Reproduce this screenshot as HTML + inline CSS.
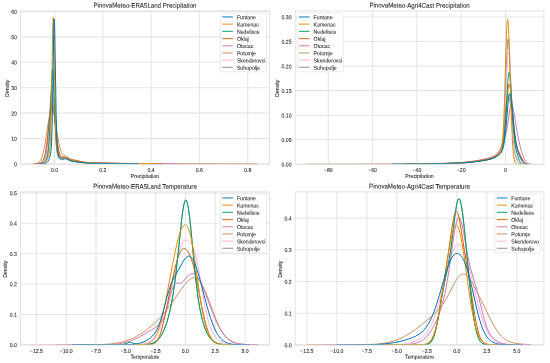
<!DOCTYPE html><html><head><meta charset="utf-8"><style>html,body{margin:0;padding:0;background:#fff;overflow:hidden}svg{display:block;will-change:transform}</style></head><body><svg width="550" height="363" viewBox="0 0 550 363" font-family='"Liberation Sans", sans-serif' fill="#222222">
<rect width="550" height="363" fill="#fff"/>
<clipPath id="c0"><rect x="20.5" y="10.9" width="249.0" height="153.29999999999998"/></clipPath>
<line x1="54.50" y1="10.9" x2="54.50" y2="164.2" stroke="#e6e6e6" stroke-width="1.1"/>
<line x1="102.80" y1="10.9" x2="102.80" y2="164.2" stroke="#e6e6e6" stroke-width="1.1"/>
<line x1="151.10" y1="10.9" x2="151.10" y2="164.2" stroke="#e6e6e6" stroke-width="1.1"/>
<line x1="199.40" y1="10.9" x2="199.40" y2="164.2" stroke="#e6e6e6" stroke-width="1.1"/>
<line x1="247.70" y1="10.9" x2="247.70" y2="164.2" stroke="#e6e6e6" stroke-width="1.1"/>
<line x1="20.5" y1="164.00" x2="269.5" y2="164.00" stroke="#e6e6e6" stroke-width="1.1"/>
<line x1="20.5" y1="138.58" x2="269.5" y2="138.58" stroke="#e6e6e6" stroke-width="1.1"/>
<line x1="20.5" y1="113.16" x2="269.5" y2="113.16" stroke="#e6e6e6" stroke-width="1.1"/>
<line x1="20.5" y1="87.74" x2="269.5" y2="87.74" stroke="#e6e6e6" stroke-width="1.1"/>
<line x1="20.5" y1="62.32" x2="269.5" y2="62.32" stroke="#e6e6e6" stroke-width="1.1"/>
<line x1="20.5" y1="36.90" x2="269.5" y2="36.90" stroke="#e6e6e6" stroke-width="1.1"/>
<line x1="20.5" y1="11.48" x2="269.5" y2="11.48" stroke="#e6e6e6" stroke-width="1.1"/>
<g clip-path="url(#c0)" fill="none" stroke-width="1.0" stroke-linejoin="round">
<path d="M38.80,163.72 40.83,163.51 42.39,163.11 43.06,162.81 43.69,162.45 44.26,162.01 44.79,161.51 45.24,160.95 45.67,160.30 46.39,158.74 47.00,156.80 47.55,154.21 48.02,151.12 48.45,147.50 49.28,137.78 50.00,126.26 51.43,100.10 52.01,91.48 52.28,88.40 52.56,86.16 52.81,84.94 52.93,84.64 53.06,84.53 53.18,84.64 53.33,85.04 53.64,86.71 53.94,89.45 54.24,93.14 54.79,101.79 56.42,130.89 56.97,138.84 57.49,144.85 58.10,149.89 58.42,151.92 58.77,153.63 59.12,154.93 59.52,156.02 59.95,156.83 60.43,157.40 60.93,157.75 61.53,157.94 62.10,157.99 63.88,157.99 65.09,158.23 66.14,158.69 69.07,160.30 70.10,160.70 71.17,160.99 72.48,161.22 81.95,162.53 86.21,162.99 90.27,163.22 95.53,163.35 139.02,163.74" stroke="#949494"/>
<path d="M37.59,163.74 40.20,163.61 41.99,163.30 42.72,163.06 43.42,162.74 44.07,162.33 44.64,161.87 45.16,161.32 45.64,160.69 46.07,159.97 46.46,159.13 47.11,157.15 47.68,154.49 48.07,151.88 48.46,148.44 49.16,139.78 49.94,125.74 51.24,96.43 51.72,86.99 52.03,82.28 52.29,79.31 52.55,77.46 52.68,76.98 52.81,76.82 52.94,76.96 53.07,77.41 53.33,79.21 53.85,86.04 54.33,95.20 55.85,128.59 56.42,138.31 56.94,145.13 57.59,150.97 57.94,153.09 58.29,154.69 58.68,155.99 59.11,156.98 59.63,157.73 60.20,158.18 60.72,158.38 61.33,158.44 63.68,158.11 64.85,158.15 66.15,158.54 69.37,160.03 70.33,160.33 71.41,160.58 75.89,161.24 81.28,162.16 83.98,162.56 87.41,162.91 91.28,163.13 98.80,163.28 139.66,163.70 211.47,163.86" stroke="#fbafe4"/>
<path d="M32.77,163.72 34.84,163.60 36.36,163.38 37.59,162.98 38.60,162.41 39.56,161.54 40.40,160.40 41.19,158.93 41.97,156.97 42.65,154.86 43.32,152.30 43.99,149.28 44.67,145.81 45.85,138.78 48.37,122.12 49.55,115.58 50.17,112.97 50.79,111.07 51.07,110.47 51.35,110.04 51.63,109.79 51.91,109.71 52.14,109.78 52.42,110.03 52.70,110.45 52.98,111.04 53.54,112.70 54.10,114.95 55.22,120.83 57.64,135.99 58.76,142.35 59.38,145.33 60.00,147.89 60.56,149.83 61.18,151.54 61.68,152.64 62.24,153.59 62.86,154.34 63.53,154.92 64.21,155.33 66.45,156.46 69.88,158.56 71.06,159.08 72.35,159.49 81.61,161.59 85.04,162.23 87.17,162.51 89.48,162.71 95.20,162.96 126.70,163.46 146.47,163.65 257.36,163.91" stroke="#ca9161"/>
<path d="M36.39,163.66 38.64,163.47 40.35,163.12 41.77,162.55 42.36,162.20 42.91,161.77 43.82,160.75 44.58,159.39 45.24,157.61 45.83,155.31 46.35,152.54 46.84,149.18 47.32,144.97 47.77,140.26 48.57,130.14 50.20,106.39 50.86,98.51 51.18,95.69 51.49,93.61 51.80,92.35 51.97,92.03 52.11,91.96 52.25,92.07 52.43,92.45 52.77,94.00 53.12,96.53 53.47,99.93 54.09,107.69 55.93,133.70 56.56,140.87 57.15,146.25 57.81,150.70 58.15,152.44 58.54,153.95 58.95,155.18 59.37,156.05 59.82,156.69 60.34,157.12 60.76,157.29 61.24,157.37 63.43,157.25 64.61,157.41 65.69,157.78 68.64,159.14 69.61,159.46 70.69,159.71 75.48,160.47 81.34,161.72 83.95,162.19 86.97,162.60 90.23,162.86 97.24,163.08 131.61,163.55 149.56,163.69 175.25,163.75" stroke="#cc78bc"/>
<path d="M35.18,163.70 37.45,163.55 39.12,163.28 40.40,162.87 41.45,162.26 42.35,161.40 43.15,160.19 43.85,158.63 44.49,156.67 45.07,154.35 45.64,151.42 46.19,148.05 46.73,144.06 47.69,135.67 49.64,116.38 50.48,109.52 50.89,106.91 51.31,104.98 51.72,103.82 51.92,103.55 52.11,103.47 52.30,103.56 52.52,103.89 52.94,105.12 53.39,107.28 53.84,110.21 54.64,116.88 56.84,137.90 57.55,143.47 58.25,147.99 58.99,151.56 59.76,154.11 60.17,155.06 60.59,155.77 61.03,156.30 61.55,156.67 62.28,156.92 64.17,157.07 65.23,157.32 66.22,157.76 69.10,159.33 70.12,159.73 71.21,160.02 76.04,160.85 83.18,162.22 85.96,162.60 88.84,162.86 91.95,163.03 95.95,163.13 124.62,163.51 142.15,163.67 163.18,163.75" stroke="#d55e00"/>
<path d="M38.80,163.74 41.01,163.57 41.84,163.41 42.57,163.18 43.25,162.87 43.87,162.48 44.47,161.99 45.02,161.40 45.55,160.69 46.03,159.89 46.82,158.06 47.46,155.75 47.99,152.79 48.37,149.79 48.70,146.30 49.34,136.75 50.02,121.96 51.19,90.20 51.63,79.73 52.11,71.88 52.36,69.87 52.47,69.43 52.58,69.29 52.69,69.45 52.80,69.91 53.02,71.73 53.48,78.99 53.92,89.22 55.26,125.04 55.75,135.20 56.21,142.63 56.74,148.62 57.03,150.95 57.36,153.01 57.71,154.64 58.08,155.90 58.53,156.93 59.01,157.70 59.38,158.10 59.80,158.41 60.24,158.59 60.71,158.67 61.54,158.59 63.68,158.00 64.30,157.95 64.92,158.01 65.53,158.18 66.19,158.47 69.30,160.19 70.21,160.54 71.15,160.81 72.47,161.05 76.29,161.57 81.88,162.43 86.07,162.92 89.84,163.16 94.58,163.30 126.95,163.64" stroke="#029e73"/>
<path d="M40.01,163.70 42.51,163.54 43.37,163.37 44.09,163.12 44.76,162.75 45.37,162.26 45.93,161.64 46.45,160.87 47.06,159.73 47.68,158.29 48.26,156.63 48.79,154.82 49.17,153.18 49.48,151.53 49.98,147.41 50.29,143.29 50.56,137.85 51.06,122.25 51.54,99.28 52.62,33.43 52.95,20.98 53.12,17.96 53.26,17.26 53.40,18.25 53.54,20.89 53.81,30.66 55.15,109.22 55.53,125.90 55.92,137.20 56.40,145.32 56.67,148.20 56.98,150.39 57.40,152.44 57.92,154.26 58.59,155.98 59.28,157.26 59.70,157.80 60.15,158.21 60.59,158.44 61.09,158.53 61.51,158.49 61.95,158.36 63.51,157.65 64.17,157.41 64.87,157.31 65.53,157.36 66.12,157.53 66.78,157.84 68.98,159.19 69.92,159.69 70.87,160.08 71.92,160.39 82.64,162.29 85.42,162.67 88.28,162.92 92.33,163.12 98.14,163.24 129.49,163.61 151.10,163.74" stroke="#de8f05"/>
<path d="M40.01,163.78 43.38,163.69 45.08,163.46 45.78,163.23 46.40,162.91 46.97,162.47 47.49,161.91 48.10,161.03 48.70,159.90 49.29,158.48 49.84,156.88 50.23,155.42 50.56,153.89 51.05,150.21 51.37,146.14 51.64,140.96 52.14,125.52 52.61,101.97 53.67,34.58 53.97,23.07 54.12,20.08 54.19,19.35 54.27,19.15 54.39,19.98 54.54,22.87 54.81,33.01 56.05,109.70 56.40,125.86 56.77,137.90 57.19,146.19 57.44,149.21 57.73,151.69 58.08,153.62 58.50,155.22 59.07,156.79 59.69,158.04 60.13,158.71 60.58,159.19 61.03,159.50 61.52,159.68 61.99,159.70 62.51,159.61 64.27,158.94 64.94,158.75 65.56,158.68 66.15,158.71 66.77,158.85 67.46,159.11 69.74,160.27 70.70,160.70 71.62,161.02 72.64,161.28 74.34,161.57 81.50,162.56 86.55,163.07 90.53,163.28 95.73,163.39 139.02,163.76" stroke="#0173b2"/>
</g>
<rect x="20.5" y="10.9" width="249.0" height="153.29999999999998" fill="none" stroke="#dcdcdc" stroke-width="0.8"/>
<rect x="220.50" y="13.00" width="46.0" height="58.8" rx="1.3" fill="#fff" fill-opacity="0.85" stroke="#dedede" stroke-width="0.6"/>
<line x1="222.30" y1="16.95" x2="232.90" y2="16.95" stroke="#0173b2" stroke-width="1.25" stroke-opacity="0.78"/>
<line x1="222.30" y1="24.15" x2="232.90" y2="24.15" stroke="#de8f05" stroke-width="1.25" stroke-opacity="0.78"/>
<line x1="222.30" y1="31.35" x2="232.90" y2="31.35" stroke="#029e73" stroke-width="1.25" stroke-opacity="0.78"/>
<line x1="222.30" y1="38.55" x2="232.90" y2="38.55" stroke="#d55e00" stroke-width="1.25" stroke-opacity="0.78"/>
<line x1="222.30" y1="45.75" x2="232.90" y2="45.75" stroke="#cc78bc" stroke-width="1.25" stroke-opacity="0.78"/>
<line x1="222.30" y1="52.95" x2="232.90" y2="52.95" stroke="#ca9161" stroke-width="1.25" stroke-opacity="0.78"/>
<line x1="222.30" y1="60.15" x2="232.90" y2="60.15" stroke="#fbafe4" stroke-width="1.25" stroke-opacity="0.78"/>
<line x1="222.30" y1="67.35" x2="232.90" y2="67.35" stroke="#949494" stroke-width="1.25" stroke-opacity="0.78"/>
<clipPath id="c1"><rect x="295.2" y="10.9" width="248.7" height="153.29999999999998"/></clipPath>
<line x1="328.30" y1="10.9" x2="328.30" y2="164.2" stroke="#e6e6e6" stroke-width="1.1"/>
<line x1="372.60" y1="10.9" x2="372.60" y2="164.2" stroke="#e6e6e6" stroke-width="1.1"/>
<line x1="416.90" y1="10.9" x2="416.90" y2="164.2" stroke="#e6e6e6" stroke-width="1.1"/>
<line x1="461.20" y1="10.9" x2="461.20" y2="164.2" stroke="#e6e6e6" stroke-width="1.1"/>
<line x1="505.50" y1="10.9" x2="505.50" y2="164.2" stroke="#e6e6e6" stroke-width="1.1"/>
<line x1="295.2" y1="164.30" x2="543.9" y2="164.30" stroke="#e6e6e6" stroke-width="1.1"/>
<line x1="295.2" y1="139.75" x2="543.9" y2="139.75" stroke="#e6e6e6" stroke-width="1.1"/>
<line x1="295.2" y1="115.20" x2="543.9" y2="115.20" stroke="#e6e6e6" stroke-width="1.1"/>
<line x1="295.2" y1="90.65" x2="543.9" y2="90.65" stroke="#e6e6e6" stroke-width="1.1"/>
<line x1="295.2" y1="66.10" x2="543.9" y2="66.10" stroke="#e6e6e6" stroke-width="1.1"/>
<line x1="295.2" y1="41.55" x2="543.9" y2="41.55" stroke="#e6e6e6" stroke-width="1.1"/>
<line x1="295.2" y1="17.00" x2="543.9" y2="17.00" stroke="#e6e6e6" stroke-width="1.1"/>
<g clip-path="url(#c1)" fill="none" stroke-width="1.0" stroke-linejoin="round">
<path d="M419.12,163.82 441.81,163.59 449.18,163.43 455.42,163.21 461.38,162.89 466.98,162.46 472.42,161.92 477.73,161.25 482.88,160.46 487.41,159.63 490.40,158.94 492.72,158.20 494.83,157.23 496.86,155.94 498.05,155.02 499.25,153.98 500.06,153.19 500.66,152.46 501.25,151.45 501.72,150.28 502.14,148.80 502.53,146.83 502.87,144.52 503.21,141.49 503.80,133.96 504.35,124.22 504.90,111.59 506.51,64.72 507.03,51.51 507.58,42.05 507.84,39.66 507.97,39.05 508.10,38.83 508.25,39.06 508.41,39.64 508.75,42.02 509.09,45.90 509.43,51.13 510.13,65.47 511.77,106.03 512.58,123.57 513.04,131.98 513.49,138.64 513.95,144.36 514.45,149.09 515.02,153.15 515.67,156.38 516.43,158.88 516.87,159.94 517.34,160.84 517.88,161.69 518.48,162.42 519.11,163.00 519.78,163.47 520.49,163.81 521.24,164.04 522.13,164.19 523.22,164.27" stroke="#949494"/>
<path d="M412.47,163.86 438.14,163.65 452.37,163.33 458.46,163.06 464.05,162.70 469.40,162.24 474.63,161.65 480.17,160.89 485.48,160.01 489.25,159.23 491.96,158.47 494.15,157.58 496.17,156.42 497.28,155.63 498.41,154.72 499.44,153.80 500.18,153.01 500.90,152.03 501.46,150.95 501.93,149.63 502.34,147.98 502.73,145.89 503.09,143.32 503.76,136.55 504.34,128.05 504.95,116.42 506.66,74.93 507.22,63.22 507.52,58.25 507.80,54.92 508.07,52.90 508.21,52.42 508.32,52.29 508.49,52.50 508.66,53.03 508.99,55.01 509.35,58.48 509.71,63.22 510.43,75.72 512.09,110.64 512.92,126.09 513.83,139.19 514.30,144.26 514.80,148.52 515.38,152.29 516.05,155.37 516.80,157.78 517.71,159.83 518.29,160.81 518.90,161.66 519.54,162.39 520.20,162.98 520.87,163.44 521.56,163.77 522.33,164.01 523.22,164.17" stroke="#fbafe4"/>
<path d="M306.15,164.23 357.49,164.08 404.64,163.81 434.28,163.53 442.67,163.39 449.44,163.19 455.65,162.91 461.30,162.52 466.61,162.02 471.76,161.38 477.12,160.55 482.44,159.54 487.19,158.46 490.49,157.50 492.56,156.67 494.35,155.68 496.03,154.46 497.59,152.99 498.88,151.47 499.83,149.97 500.61,148.24 501.29,146.16 501.79,144.07 502.29,141.39 502.80,138.03 503.24,134.42 504.03,126.77 505.70,108.08 506.54,100.44 506.93,97.77 507.27,96.07 507.61,95.01 507.77,94.74 507.94,94.67 508.11,94.79 508.39,95.30 508.95,96.82 509.45,98.79 510.01,101.65 511.02,108.32 513.48,127.94 514.71,136.57 515.44,140.83 516.16,144.43 516.95,147.69 517.78,150.59 519.01,154.10 520.47,157.48 521.81,159.98 522.48,161.00 523.15,161.84 523.77,162.48 524.44,163.03 525.11,163.44 525.84,163.76 526.62,163.98 527.46,164.13 529.87,164.28" stroke="#ca9161"/>
<path d="M408.04,163.82 431.61,163.62 444.82,163.40 454.96,163.03 463.52,162.46 468.57,161.96 473.47,161.35 478.31,160.60 483.05,159.74 487.02,158.89 489.94,158.13 492.17,157.34 494.06,156.42 495.52,155.48 496.91,154.35 498.22,153.06 499.40,151.63 500.39,150.16 501.26,148.58 502.03,146.84 502.81,144.74 503.71,141.85 505.29,136.22 506.43,131.72 506.93,129.21 507.43,126.20 509.13,113.85 509.88,109.25 510.28,107.35 510.68,105.96 511.09,105.15 511.27,104.97 511.49,104.91 511.71,104.98 511.92,105.18 512.36,105.96 512.82,107.33 513.29,109.18 514.37,114.90 517.04,131.39 518.37,138.46 519.37,142.97 520.42,147.20 521.57,151.29 522.71,154.87 523.71,157.51 524.67,159.61 525.63,161.23 526.62,162.44 527.65,163.26 528.82,163.81 530.19,164.12 532.08,164.26" stroke="#cc78bc"/>
<path d="M405.82,163.88 432.32,163.67 446.48,163.44 457.39,163.03 462.17,162.73 466.74,162.35 472.40,161.74 477.95,160.99 483.55,160.06 488.21,159.11 490.89,158.40 493.02,157.62 494.91,156.66 496.74,155.41 498.14,154.23 499.36,153.02 500.27,151.89 501.00,150.69 501.61,149.35 502.16,147.71 502.68,145.64 503.13,143.29 503.59,140.36 504.02,137.04 504.90,128.40 505.75,118.14 507.31,97.43 507.91,90.50 508.25,87.56 508.55,85.61 508.86,84.43 509.01,84.16 509.13,84.10 509.32,84.22 509.50,84.53 509.89,85.82 510.29,87.93 510.72,91.06 511.54,99.05 513.43,121.20 514.34,130.68 514.86,135.18 515.38,138.99 515.92,142.31 516.47,144.97 517.29,148.00 518.30,150.73 521.10,156.84 522.72,159.95 523.87,161.67 524.42,162.30 525.00,162.84 525.58,163.26 526.22,163.61 526.89,163.87 527.65,164.05" stroke="#d55e00"/>
<path d="M421.33,163.81 442.31,163.58 449.33,163.42 455.35,163.21 461.07,162.91 466.43,162.51 471.64,162.00 476.71,161.39 481.82,160.63 486.53,159.81 489.73,159.12 492.15,158.41 494.20,157.55 496.08,156.48 498.11,154.97 499.98,153.26 500.79,152.31 501.44,151.31 501.99,150.14 502.45,148.76 502.90,147.02 503.31,144.86 504.07,139.32 504.74,132.24 505.45,122.65 507.37,89.15 507.92,80.79 508.23,77.06 508.52,74.52 508.80,72.94 508.96,72.51 509.09,72.39 509.22,72.47 509.38,72.80 509.69,74.17 510.00,76.47 510.34,79.91 511.02,89.16 512.66,116.60 513.49,128.74 513.96,134.33 514.45,139.23 514.97,143.39 515.55,147.01 516.43,151.26 517.55,155.37 518.80,159.03 519.37,160.38 519.94,161.50 520.44,162.27 520.93,162.88 521.48,163.38 522.05,163.74 522.68,163.99 523.38,164.15 525.43,164.29" stroke="#029e73"/>
<path d="M416.90,163.84 440.51,163.61 448.00,163.46 454.30,163.25 460.29,162.95 465.88,162.56 471.27,162.04 476.55,161.41 481.89,160.62 486.78,159.76 490.03,159.04 492.45,158.30 493.60,157.83 494.69,157.30 495.73,156.70 496.77,156.00 497.92,155.12 498.93,154.22 499.64,153.48 500.18,152.73 500.76,151.62 501.23,150.24 501.64,148.45 502.01,146.25 502.34,143.50 502.68,139.89 503.28,130.88 503.80,119.83 504.35,104.84 505.91,51.02 506.46,34.56 506.74,27.88 507.03,22.97 507.29,20.24 507.42,19.55 507.55,19.32 507.68,19.55 507.84,20.30 508.12,22.97 508.43,27.69 508.75,34.15 509.37,51.21 510.85,100.42 511.58,121.65 512.39,139.51 512.81,146.28 513.25,151.84 513.72,156.13 514.21,159.26 514.76,161.47 515.07,162.31 515.41,162.96 515.72,163.39 516.09,163.73 516.50,163.97 517.00,164.14 518.22,164.27 521.00,164.30" stroke="#de8f05"/>
<path d="M392.54,163.99 425.30,163.80 441.95,163.63 453.57,163.34 463.07,162.85 469.01,162.38 474.79,161.78 480.49,161.02 485.90,160.16 489.31,159.49 491.81,158.83 493.91,158.04 495.83,157.04 497.42,155.98 499.01,154.71 500.26,153.53 501.17,152.42 501.88,151.25 502.48,149.86 503.03,148.20 503.53,146.16 504.04,143.56 504.55,140.34 505.56,131.96 506.40,123.03 507.92,104.67 508.50,98.90 508.80,96.57 509.11,94.88 509.38,93.96 509.51,93.72 509.68,93.63 509.85,93.70 510.02,93.93 510.39,94.97 510.76,96.73 511.17,99.37 511.94,106.09 513.83,125.80 514.81,134.71 515.39,139.03 515.96,142.68 516.57,145.90 517.25,148.83 518.26,152.35 519.48,155.74 520.79,158.74 521.43,159.96 522.08,161.00 522.65,161.78 523.22,162.43 523.83,162.97 524.44,163.38 525.12,163.71 525.83,163.94 526.67,164.11 527.65,164.22" stroke="#0173b2"/>
</g>
<rect x="295.2" y="10.9" width="248.7" height="153.29999999999998" fill="none" stroke="#dcdcdc" stroke-width="0.8"/>
<rect x="297.20" y="13.00" width="46.0" height="58.8" rx="1.3" fill="#fff" fill-opacity="0.85" stroke="#dedede" stroke-width="0.6"/>
<line x1="299.00" y1="16.95" x2="309.60" y2="16.95" stroke="#0173b2" stroke-width="1.25" stroke-opacity="0.78"/>
<line x1="299.00" y1="24.15" x2="309.60" y2="24.15" stroke="#de8f05" stroke-width="1.25" stroke-opacity="0.78"/>
<line x1="299.00" y1="31.35" x2="309.60" y2="31.35" stroke="#029e73" stroke-width="1.25" stroke-opacity="0.78"/>
<line x1="299.00" y1="38.55" x2="309.60" y2="38.55" stroke="#d55e00" stroke-width="1.25" stroke-opacity="0.78"/>
<line x1="299.00" y1="45.75" x2="309.60" y2="45.75" stroke="#cc78bc" stroke-width="1.25" stroke-opacity="0.78"/>
<line x1="299.00" y1="52.95" x2="309.60" y2="52.95" stroke="#ca9161" stroke-width="1.25" stroke-opacity="0.78"/>
<line x1="299.00" y1="60.15" x2="309.60" y2="60.15" stroke="#fbafe4" stroke-width="1.25" stroke-opacity="0.78"/>
<line x1="299.00" y1="67.35" x2="309.60" y2="67.35" stroke="#949494" stroke-width="1.25" stroke-opacity="0.78"/>
<clipPath id="c2"><rect x="20.5" y="191.9" width="249.0" height="153.1"/></clipPath>
<line x1="36.40" y1="191.9" x2="36.40" y2="345.0" stroke="#e6e6e6" stroke-width="1.1"/>
<line x1="66.20" y1="191.9" x2="66.20" y2="345.0" stroke="#e6e6e6" stroke-width="1.1"/>
<line x1="96.00" y1="191.9" x2="96.00" y2="345.0" stroke="#e6e6e6" stroke-width="1.1"/>
<line x1="125.80" y1="191.9" x2="125.80" y2="345.0" stroke="#e6e6e6" stroke-width="1.1"/>
<line x1="155.60" y1="191.9" x2="155.60" y2="345.0" stroke="#e6e6e6" stroke-width="1.1"/>
<line x1="185.40" y1="191.9" x2="185.40" y2="345.0" stroke="#e6e6e6" stroke-width="1.1"/>
<line x1="215.20" y1="191.9" x2="215.20" y2="345.0" stroke="#e6e6e6" stroke-width="1.1"/>
<line x1="245.00" y1="191.9" x2="245.00" y2="345.0" stroke="#e6e6e6" stroke-width="1.1"/>
<line x1="20.5" y1="344.80" x2="269.5" y2="344.80" stroke="#e6e6e6" stroke-width="1.1"/>
<line x1="20.5" y1="314.43" x2="269.5" y2="314.43" stroke="#e6e6e6" stroke-width="1.1"/>
<line x1="20.5" y1="284.06" x2="269.5" y2="284.06" stroke="#e6e6e6" stroke-width="1.1"/>
<line x1="20.5" y1="253.69" x2="269.5" y2="253.69" stroke="#e6e6e6" stroke-width="1.1"/>
<line x1="20.5" y1="223.32" x2="269.5" y2="223.32" stroke="#e6e6e6" stroke-width="1.1"/>
<line x1="20.5" y1="192.95" x2="269.5" y2="192.95" stroke="#e6e6e6" stroke-width="1.1"/>
<g clip-path="url(#c2)" fill="none" stroke-width="1.0" stroke-linejoin="round">
<path d="M87.66,344.80 137.62,344.78 143.42,344.67 147.31,344.39 149.56,344.06 151.55,343.57 153.30,342.93 154.90,342.11 156.43,341.07 157.84,339.82 159.18,338.34 160.47,336.59 162.11,333.88 163.68,330.70 165.20,326.99 166.65,322.84 168.03,318.28 169.36,313.17 170.62,307.62 171.80,301.65 172.83,295.75 173.82,289.37 174.78,282.53 175.77,274.68 177.49,259.40 180.96,225.77 181.80,218.42 182.52,212.76 183.40,207.06 184.24,203.04 184.66,201.63 185.04,200.71 185.42,200.15 185.61,200.01 185.80,199.96 185.99,200.01 186.22,200.19 186.64,200.87 187.06,201.99 187.48,203.54 187.90,205.52 188.36,208.12 189.27,214.59 190.03,221.08 190.91,229.46 194.04,262.30 195.41,275.84 196.90,288.79 198.35,299.46 199.84,308.47 200.60,312.41 201.40,316.11 202.24,319.55 203.08,322.61 204.00,325.56 204.95,328.27 206.09,331.08 207.28,333.56 208.53,335.78 209.83,337.69 211.20,339.34 212.65,340.72 214.18,341.85 215.82,342.76 217.38,343.39 219.14,343.89 221.08,344.25 223.37,344.51 225.85,344.66 228.94,344.75 240.23,344.80" stroke="#949494"/>
<path d="M31.04,344.80 121.97,344.80 129.51,344.76 134.27,344.67 137.22,344.53 139.73,344.32 141.92,344.03 143.85,343.65 145.67,343.14 147.33,342.52 148.88,341.76 150.32,340.88 152.14,339.48 153.85,337.81 155.51,335.81 157.11,333.47 158.67,330.78 160.16,327.75 161.61,324.38 163.00,320.69 164.39,316.53 165.78,311.87 167.17,306.70 168.56,301.02 171.13,289.30 176.53,262.58 177.98,256.21 179.31,251.09 180.12,248.46 180.92,246.19 181.72,244.30 182.52,242.79 183.32,241.64 184.18,240.80 184.61,240.52 185.09,240.30 186.00,240.14 186.59,240.20 187.23,240.38 187.87,240.68 188.57,241.11 189.26,241.67 189.90,242.28 191.19,243.83 192.26,245.55 193.27,247.65 194.24,250.14 195.15,253.02 195.90,255.79 196.64,258.94 198.20,266.58 199.69,275.12 203.81,300.15 205.15,307.42 206.43,313.61 207.98,319.96 208.73,322.60 209.54,325.14 210.39,327.54 211.25,329.66 212.16,331.63 213.07,333.36 214.14,335.11 215.26,336.68 216.49,338.14 217.77,339.41 219.11,340.50 220.55,341.46 222.05,342.25 223.71,342.94 225.37,343.46 227.13,343.87 229.06,344.18 231.25,344.42 236.55,344.70 245.00,344.79" stroke="#fbafe4"/>
<path d="M55.47,344.80 81.56,344.78 93.57,344.70 102.59,344.45 106.28,344.26 109.63,344.00 113.17,343.63 116.47,343.15 119.56,342.58 122.55,341.89 125.43,341.06 128.22,340.12 130.96,339.04 133.69,337.80 136.63,336.28 139.57,334.58 142.56,332.66 145.55,330.56 148.59,328.25 151.57,325.78 154.51,323.17 157.30,320.50 159.93,317.78 162.52,314.93 165.05,311.92 167.63,308.66 169.91,305.61 172.34,302.21 181.82,288.47 184.00,285.54 185.92,283.17 187.14,281.82 188.25,280.71 189.32,279.79 190.33,279.04 191.29,278.47 192.25,278.04 193.22,277.78 194.13,277.69 195.19,277.80 196.26,278.16 197.32,278.76 198.33,279.57 199.35,280.62 200.41,281.98 201.47,283.59 202.54,285.44 204.41,289.25 206.44,294.01 208.47,299.26 214.34,315.16 216.22,319.84 217.99,323.91 220.07,328.14 222.09,331.67 223.11,333.22 224.12,334.62 225.18,335.95 226.25,337.14 227.41,338.28 228.63,339.32 229.89,340.25 231.21,341.06 232.58,341.77 234.00,342.37 235.52,342.89 237.19,343.35 238.91,343.71 240.74,344.00 244.99,344.42 250.36,344.65 258.11,344.77" stroke="#ca9161"/>
<path d="M66.20,344.80 93.98,344.79 104.39,344.71 108.66,344.60 112.26,344.43 115.43,344.19 118.35,343.87 121.52,343.39 124.49,342.77 127.37,342.00 130.20,341.06 133.03,339.94 135.96,338.61 139.13,337.00 142.82,334.98 151.74,329.77 154.43,328.08 156.49,326.65 158.27,325.24 159.76,323.82 161.00,322.38 162.16,320.73 163.02,319.24 163.88,317.47 164.70,315.52 165.51,313.28 166.38,310.58 167.24,307.57 170.36,295.50 171.66,290.94 172.38,288.79 173.09,286.99 173.77,285.64 174.49,284.56 174.92,284.08 175.35,283.72 175.78,283.46 176.26,283.29 177.17,283.17 179.00,283.29 179.86,283.26 180.77,283.04 181.68,282.60 182.55,281.97 183.51,281.07 187.15,276.88 188.02,275.98 188.83,275.24 189.74,274.57 190.61,274.10 191.47,273.81 192.33,273.71 193.29,273.83 194.25,274.18 195.21,274.78 196.17,275.62 197.13,276.70 198.14,278.06 199.15,279.66 200.15,281.47 202.03,285.33 204.04,290.09 206.15,295.53 212.44,312.36 214.55,317.60 216.47,321.98 218.72,326.59 220.93,330.49 222.03,332.20 223.18,333.83 224.34,335.30 225.49,336.62 226.73,337.89 228.03,339.03 229.33,340.02 230.72,340.92 232.11,341.68 233.60,342.35 235.18,342.92 236.86,343.40 238.54,343.77 240.36,344.07 242.38,344.31 244.63,344.49 249.96,344.70 258.11,344.79" stroke="#cc78bc"/>
<path d="M84.08,344.80 142.23,344.80 148.04,344.74 150.71,344.54 151.76,344.35 152.69,344.11 153.54,343.78 154.35,343.36 155.09,342.86 155.79,342.25 156.72,341.22 157.57,340.00 158.38,338.57 159.20,336.84 160.01,334.80 160.79,332.55 161.56,330.01 162.37,327.04 163.57,322.13 164.93,315.99 170.12,290.44 172.79,277.93 175.27,267.34 176.32,263.30 177.33,259.75 178.22,256.95 179.07,254.61 179.88,252.71 180.70,251.16 181.51,249.97 182.32,249.13 183.14,248.63 183.56,248.50 183.99,248.46 184.49,248.51 185.04,248.69 185.54,248.97 186.08,249.37 187.17,250.53 188.25,252.11 189.34,254.12 190.38,256.48 191.43,259.28 192.44,262.41 193.29,265.40 194.14,268.69 195.92,276.48 197.63,284.86 202.08,307.91 203.44,314.35 204.72,319.88 206.23,325.61 207.70,330.31 208.44,332.33 209.21,334.22 209.99,335.89 210.76,337.35 211.57,338.68 212.43,339.86 213.32,340.88 214.25,341.76 215.25,342.51 216.30,343.12 217.42,343.61 218.66,344.00 219.82,344.26 221.14,344.46 224.40,344.70 228.85,344.79 239.04,344.80" stroke="#d55e00"/>
<path d="M78.12,344.80 116.12,344.80 120.27,344.74 122.05,344.59 123.56,344.31 125.00,343.88 128.13,342.68 129.06,342.45 129.95,342.38 130.77,342.43 131.62,342.62 135.49,344.06 136.62,344.36 137.78,344.56 139.37,344.69 141.34,344.72 144.02,344.64 146.42,344.48 148.74,344.20 150.76,343.79 152.58,343.22 154.21,342.50 155.72,341.59 157.15,340.47 158.51,339.12 159.82,337.51 160.67,336.29 161.53,334.92 163.15,331.83 164.74,328.18 166.25,324.05 167.73,319.33 169.12,314.14 170.40,308.65 171.64,302.52 172.68,296.63 173.73,290.00 174.74,282.83 175.71,275.20 177.45,259.74 180.97,225.60 181.79,218.48 182.52,212.73 183.42,206.96 184.23,203.07 184.66,201.63 185.04,200.70 185.43,200.14 185.62,200.00 185.82,199.96 186.01,200.02 186.24,200.21 186.67,200.93 187.10,202.11 187.52,203.73 188.37,208.23 189.30,214.85 190.08,221.48 190.93,229.65 193.99,261.80 195.31,274.86 196.70,287.19 198.10,297.75 199.41,306.10 200.81,313.42 202.28,319.71 203.10,322.66 203.91,325.30 204.95,328.28 206.08,331.05 207.24,333.49 208.48,335.70 209.76,337.59 211.08,339.20 212.47,340.57 213.98,341.72 215.45,342.58 217.04,343.27 218.78,343.80 220.72,344.19 222.89,344.47 225.45,344.64 233.08,344.79" stroke="#029e73"/>
<path d="M90.04,344.80 133.59,344.78 138.95,344.70 142.53,344.51 144.54,344.28 146.25,343.96 147.78,343.53 149.12,343.00 150.38,342.31 151.54,341.48 152.62,340.49 153.63,339.34 154.74,337.77 155.82,335.91 156.87,333.75 157.91,331.20 158.92,328.37 159.92,325.16 160.96,321.44 162.01,317.34 163.83,309.37 165.88,299.49 172.62,264.27 174.75,253.58 176.68,244.68 178.43,237.70 179.33,234.63 180.19,232.05 181.04,229.83 181.86,228.07 182.68,226.68 183.50,225.68 183.91,225.32 184.32,225.07 184.73,224.92 185.10,224.87 185.51,224.93 185.92,225.09 186.33,225.37 186.70,225.73 187.49,226.81 188.23,228.26 188.98,230.16 189.72,232.50 190.47,235.30 191.21,238.56 192.51,245.32 193.93,254.00 195.35,263.76 199.44,293.49 200.78,302.30 202.05,309.77 203.58,317.53 205.11,323.92 205.89,326.69 206.71,329.26 207.53,331.52 208.38,333.57 209.31,335.48 210.28,337.16 211.33,338.67 212.41,339.95 213.56,341.05 214.79,341.98 216.09,342.73 217.55,343.36 218.96,343.80 220.53,344.14 222.28,344.40 224.29,344.58 229.32,344.76 239.04,344.80" stroke="#de8f05"/>
<path d="M72.16,344.80 118.87,344.77 126.37,344.63 131.75,344.35 134.68,344.05 137.30,343.65 139.70,343.13 141.92,342.50 144.00,341.73 146.00,340.81 147.87,339.74 149.60,338.54 151.06,337.32 152.39,336.02 153.64,334.60 154.79,333.06 155.90,331.32 156.92,329.48 157.94,327.35 158.92,325.04 160.52,320.60 162.16,315.24 163.63,309.89 167.05,296.75 168.82,290.53 169.76,287.62 170.69,285.01 171.62,282.67 172.60,280.49 174.46,276.90 178.24,270.34 182.37,262.78 184.01,260.07 185.30,258.32 186.50,257.11 187.07,256.68 187.65,256.38 188.23,256.20 188.76,256.14 189.65,256.30 190.49,256.75 191.33,257.49 192.18,258.52 193.02,259.84 193.91,261.52 194.80,263.49 195.73,265.85 197.37,270.65 199.19,276.75 201.06,283.60 206.70,305.12 208.56,311.69 210.29,317.28 212.29,323.02 214.29,327.94 215.27,330.04 216.29,332.03 217.31,333.81 218.38,335.46 219.49,336.98 220.64,338.34 221.79,339.50 223.04,340.55 224.33,341.45 225.70,342.23 227.12,342.87 228.68,343.40 230.19,343.79 231.87,344.11 233.74,344.36 235.87,344.54 241.02,344.73 249.77,344.80" stroke="#0173b2"/>
</g>
<rect x="20.5" y="191.9" width="249.0" height="153.1" fill="none" stroke="#dcdcdc" stroke-width="0.8"/>
<rect x="220.50" y="194.00" width="46.0" height="58.8" rx="1.3" fill="#fff" fill-opacity="0.85" stroke="#dedede" stroke-width="0.6"/>
<line x1="222.30" y1="197.95" x2="232.90" y2="197.95" stroke="#0173b2" stroke-width="1.25" stroke-opacity="0.78"/>
<line x1="222.30" y1="205.15" x2="232.90" y2="205.15" stroke="#de8f05" stroke-width="1.25" stroke-opacity="0.78"/>
<line x1="222.30" y1="212.35" x2="232.90" y2="212.35" stroke="#029e73" stroke-width="1.25" stroke-opacity="0.78"/>
<line x1="222.30" y1="219.55" x2="232.90" y2="219.55" stroke="#d55e00" stroke-width="1.25" stroke-opacity="0.78"/>
<line x1="222.30" y1="226.75" x2="232.90" y2="226.75" stroke="#cc78bc" stroke-width="1.25" stroke-opacity="0.78"/>
<line x1="222.30" y1="233.95" x2="232.90" y2="233.95" stroke="#ca9161" stroke-width="1.25" stroke-opacity="0.78"/>
<line x1="222.30" y1="241.15" x2="232.90" y2="241.15" stroke="#fbafe4" stroke-width="1.25" stroke-opacity="0.78"/>
<line x1="222.30" y1="248.35" x2="232.90" y2="248.35" stroke="#949494" stroke-width="1.25" stroke-opacity="0.78"/>
<clipPath id="c3"><rect x="295.2" y="191.9" width="248.7" height="153.1"/></clipPath>
<line x1="306.80" y1="191.9" x2="306.80" y2="345.0" stroke="#e6e6e6" stroke-width="1.1"/>
<line x1="336.80" y1="191.9" x2="336.80" y2="345.0" stroke="#e6e6e6" stroke-width="1.1"/>
<line x1="366.80" y1="191.9" x2="366.80" y2="345.0" stroke="#e6e6e6" stroke-width="1.1"/>
<line x1="396.80" y1="191.9" x2="396.80" y2="345.0" stroke="#e6e6e6" stroke-width="1.1"/>
<line x1="426.80" y1="191.9" x2="426.80" y2="345.0" stroke="#e6e6e6" stroke-width="1.1"/>
<line x1="456.80" y1="191.9" x2="456.80" y2="345.0" stroke="#e6e6e6" stroke-width="1.1"/>
<line x1="486.80" y1="191.9" x2="486.80" y2="345.0" stroke="#e6e6e6" stroke-width="1.1"/>
<line x1="516.80" y1="191.9" x2="516.80" y2="345.0" stroke="#e6e6e6" stroke-width="1.1"/>
<line x1="295.2" y1="344.90" x2="543.9" y2="344.90" stroke="#e6e6e6" stroke-width="1.1"/>
<line x1="295.2" y1="313.20" x2="543.9" y2="313.20" stroke="#e6e6e6" stroke-width="1.1"/>
<line x1="295.2" y1="281.50" x2="543.9" y2="281.50" stroke="#e6e6e6" stroke-width="1.1"/>
<line x1="295.2" y1="249.80" x2="543.9" y2="249.80" stroke="#e6e6e6" stroke-width="1.1"/>
<line x1="295.2" y1="218.10" x2="543.9" y2="218.10" stroke="#e6e6e6" stroke-width="1.1"/>
<g clip-path="url(#c3)" fill="none" stroke-width="1.0" stroke-linejoin="round">
<path d="M358.40,344.90 417.99,344.90 423.76,344.81 425.23,344.70 426.43,344.52 427.48,344.25 428.41,343.88 429.28,343.38 430.06,342.77 430.81,342.00 431.49,341.11 432.31,339.76 433.10,338.12 433.85,336.23 434.60,333.98 435.35,331.34 436.10,328.33 437.64,321.02 438.88,314.24 441.73,297.48 443.11,289.75 444.61,282.15 447.76,267.35 448.62,262.83 449.45,258.04 450.28,252.70 451.14,246.51 454.74,217.29 455.56,211.27 456.28,206.78 456.95,203.33 457.62,200.78 457.96,199.87 458.30,199.22 458.64,198.84 458.94,198.73 459.12,198.76 459.35,198.92 459.76,199.51 460.18,200.50 460.62,202.01 461.08,203.96 461.53,206.32 462.46,212.44 463.40,219.91 464.45,229.51 469.55,282.13 470.86,294.61 472.10,305.24 473.49,315.58 474.88,324.09 475.55,327.56 476.26,330.76 476.98,333.51 477.73,335.95 478.40,337.78 479.08,339.30 479.79,340.61 480.58,341.75 481.40,342.66 482.26,343.37 483.24,343.92 484.33,344.33 485.26,344.55 486.31,344.70 489.12,344.86 508.40,344.90" stroke="#949494"/>
<path d="M348.80,344.90 390.42,344.85 397.58,344.64 400.47,344.45 403.07,344.19 406.31,343.72 409.29,343.10 412.15,342.32 414.79,341.38 417.22,340.30 419.47,339.05 421.52,337.65 423.39,336.09 424.93,334.56 426.37,332.86 427.74,331.02 429.06,328.96 430.34,326.69 431.61,324.13 432.85,321.35 434.09,318.27 435.32,314.87 436.60,311.03 437.88,306.86 439.24,302.08 441.80,292.35 447.97,267.46 449.76,260.90 451.34,255.75 452.32,252.93 453.26,250.54 454.15,248.57 455.04,246.93 455.94,245.64 456.79,244.76 457.26,244.41 457.69,244.19 458.11,244.06 458.54,244.01 459.35,244.16 460.20,244.65 461.05,245.50 461.90,246.67 462.75,248.17 463.65,250.08 464.54,252.31 465.44,254.83 467.10,260.20 468.93,266.97 470.81,274.52 476.60,298.75 478.52,306.17 480.31,312.53 482.39,319.16 484.44,324.75 485.46,327.20 486.48,329.44 487.55,331.54 488.61,333.41 489.76,335.21 490.96,336.82 492.15,338.22 493.43,339.49 494.75,340.58 496.11,341.51 497.56,342.31 499.14,342.98 500.71,343.50 502.42,343.92 504.29,344.24 506.38,344.49 511.40,344.78 519.20,344.89" stroke="#fbafe4"/>
<path d="M306.80,344.90 341.81,344.89 356.00,344.83 366.43,344.63 374.40,344.23 378.44,343.89 382.14,343.45 385.62,342.91 388.87,342.25 391.96,341.48 394.99,340.55 397.91,339.50 400.82,338.27 404.41,336.50 408.06,334.43 411.76,332.04 415.75,329.20 421.52,324.74 429.10,318.55 433.42,314.81 436.73,311.63 438.86,309.31 440.88,306.86 442.79,304.25 444.64,301.42 446.26,298.70 447.95,295.66 454.46,283.19 455.97,280.58 457.32,278.52 458.16,277.39 458.94,276.47 459.73,275.68 460.46,275.07 461.19,274.59 461.92,274.24 462.65,274.04 463.38,273.97 464.27,274.08 465.23,274.42 466.18,274.98 467.13,275.76 468.14,276.80 469.15,278.04 470.22,279.54 471.40,281.38 473.64,285.32 476.45,290.70 480.93,299.71 489.35,316.92 493.05,324.07 495.24,327.90 497.26,331.05 499.28,333.79 501.24,336.04 502.42,337.20 503.60,338.22 504.83,339.16 506.12,340.00 507.41,340.72 508.82,341.37 510.27,341.94 511.85,342.44 513.53,342.87 515.38,343.25 519.59,343.86 524.80,344.31 531.20,344.61" stroke="#ca9161"/>
<path d="M324.80,344.90 394.11,344.88 402.06,344.79 407.42,344.55 410.48,344.25 413.18,343.83 415.63,343.26 417.82,342.55 419.92,341.63 421.85,340.53 423.69,339.22 425.47,337.67 426.70,336.44 427.87,335.10 429.04,333.62 430.17,332.06 431.34,330.28 432.46,328.41 434.70,324.22 436.90,319.49 438.94,314.43 440.77,309.18 442.46,303.58 443.78,298.47 445.01,293.09 446.18,287.23 447.35,280.64 449.44,267.16 453.52,238.03 454.44,232.17 455.26,227.56 456.23,223.04 456.69,221.32 457.15,219.90 457.60,218.79 458.06,218.01 458.52,217.55 458.93,217.43 459.29,217.54 459.70,217.91 460.05,218.43 460.46,219.27 461.28,221.62 462.14,225.00 462.86,228.34 463.67,232.63 466.53,249.12 467.80,256.05 469.18,262.68 470.56,268.36 472.04,273.61 475.35,284.36 476.83,289.62 478.56,296.45 482.44,312.68 484.43,320.14 485.65,324.10 486.83,327.39 488.05,330.32 489.28,332.77 490.45,334.72 491.67,336.42 493.00,337.94 494.48,339.31 496.06,340.49 497.74,341.49 499.58,342.35 501.62,343.08 503.61,343.61 505.75,344.02 508.15,344.34 510.85,344.57 517.43,344.82 528.80,344.90" stroke="#cc78bc"/>
<path d="M354.80,344.90 417.44,344.90 423.26,344.83 424.75,344.72 425.97,344.56 427.03,344.31 427.94,343.99 428.80,343.54 429.59,342.99 430.33,342.29 431.00,341.50 431.87,340.19 432.69,338.60 433.48,336.72 434.26,334.46 435.05,331.80 435.80,328.88 437.33,321.73 438.43,315.76 439.69,308.30 446.45,265.82 448.37,253.05 451.56,230.60 452.81,222.61 453.76,217.67 454.23,215.66 454.66,214.12 455.09,212.91 455.53,212.05 455.96,211.53 456.35,211.38 456.74,211.53 457.14,211.97 457.53,212.69 457.96,213.81 458.83,216.94 459.73,221.28 461.07,229.09 464.84,253.18 469.28,279.83 473.53,307.29 475.18,317.28 476.47,324.16 477.69,329.62 478.91,334.05 479.54,335.93 480.17,337.57 480.84,339.04 481.54,340.34 482.25,341.39 483.04,342.32 483.86,343.06 484.77,343.66 485.75,344.11 486.85,344.44 488.85,344.74 491.76,344.87 512.00,344.90" stroke="#d55e00"/>
<path d="M360.80,344.90 418.15,344.90 423.90,344.81 425.33,344.69 426.53,344.50 427.60,344.21 428.51,343.83 429.35,343.33 430.16,342.68 430.89,341.91 431.58,340.97 432.39,339.61 433.16,337.99 433.93,336.02 434.66,333.78 435.39,331.19 436.12,328.23 437.62,321.09 438.87,314.28 441.72,297.49 443.11,289.74 444.61,282.14 447.76,267.35 448.64,262.75 449.45,258.07 450.29,252.62 451.13,246.58 454.72,217.46 455.52,211.55 456.25,206.91 456.95,203.34 457.64,200.72 457.97,199.85 458.30,199.22 458.63,198.84 458.96,198.73 459.14,198.77 459.36,198.93 459.80,199.59 460.21,200.59 460.64,202.09 461.52,206.31 462.47,212.53 463.43,220.14 464.49,229.88 469.50,281.66 470.82,294.22 472.03,304.65 473.42,315.11 474.81,323.73 475.50,327.34 476.20,330.50 476.90,333.23 477.63,335.66 478.29,337.49 478.98,339.11 479.68,340.43 480.45,341.58 481.25,342.52 482.13,343.27 483.08,343.85 484.14,344.27 485.06,344.51 486.12,344.68 488.90,344.86 507.20,344.90" stroke="#029e73"/>
<path d="M360.80,344.90 412.96,344.89 417.80,344.85 420.84,344.74 422.60,344.59 424.10,344.37 425.41,344.05 426.57,343.64 427.66,343.09 428.64,342.42 429.54,341.63 430.40,340.66 431.34,339.35 432.24,337.78 433.10,335.96 433.93,333.89 434.75,331.49 435.57,328.72 436.36,325.73 437.19,322.24 438.88,313.97 440.68,303.70 442.51,292.08 447.61,258.30 449.15,248.97 450.54,241.41 451.32,237.59 452.11,234.20 452.82,231.54 453.54,229.31 454.25,227.55 454.93,226.34 455.26,225.92 455.60,225.62 455.94,225.44 456.24,225.39 456.54,225.43 456.80,225.56 457.36,226.08 457.93,226.97 458.53,228.30 459.09,229.90 459.69,231.98 460.29,234.41 460.93,237.37 462.09,243.65 463.36,251.61 464.75,261.17 469.10,292.48 470.56,302.06 471.95,310.24 473.56,318.48 474.35,321.99 475.18,325.30 476.00,328.25 476.82,330.86 477.69,333.24 478.59,335.37 479.45,337.11 480.35,338.64 481.29,339.96 482.30,341.11 483.35,342.06 484.51,342.86 485.75,343.49 487.10,343.97 488.38,344.29 489.80,344.52 491.45,344.69 493.40,344.80 498.35,344.89 510.80,344.90" stroke="#de8f05"/>
<path d="M336.80,344.90 360.38,344.86 372.28,344.68 377.25,344.49 381.72,344.22 385.81,343.85 389.67,343.38 394.37,342.61 399.06,341.63 403.85,340.40 408.46,339.01 412.18,337.67 415.34,336.29 418.04,334.84 420.45,333.20 421.99,331.94 423.48,330.51 424.87,328.95 426.22,327.22 427.52,325.31 428.82,323.15 430.08,320.80 431.29,318.28 432.59,315.28 433.89,311.99 435.24,308.27 436.59,304.26 439.24,295.66 443.80,279.83 445.56,273.89 447.42,268.12 449.10,263.54 450.12,261.10 451.10,259.06 452.07,257.32 453.05,255.90 453.98,254.84 454.96,254.04 455.93,253.57 456.91,253.41 457.47,253.46 458.07,253.62 458.63,253.87 459.23,254.24 460.40,255.26 461.56,256.67 462.72,258.48 463.88,260.69 465.00,263.20 466.12,266.11 467.05,268.85 468.02,272.02 469.98,279.24 471.84,287.00 476.81,308.94 478.35,315.10 479.79,320.31 481.51,325.69 482.35,327.97 483.23,330.14 484.11,332.08 485.00,333.80 485.93,335.40 486.90,336.86 487.97,338.22 489.09,339.43 490.25,340.47 491.51,341.39 492.81,342.16 494.25,342.84 495.78,343.39 497.50,343.85 499.18,344.17 500.99,344.41 505.46,344.73 511.41,344.87 522.80,344.90" stroke="#0173b2"/>
</g>
<rect x="295.2" y="191.9" width="248.7" height="153.1" fill="none" stroke="#dcdcdc" stroke-width="0.8"/>
<rect x="494.90" y="194.00" width="46.0" height="58.8" rx="1.3" fill="#fff" fill-opacity="0.85" stroke="#dedede" stroke-width="0.6"/>
<line x1="496.70" y1="197.95" x2="507.30" y2="197.95" stroke="#0173b2" stroke-width="1.25" stroke-opacity="0.78"/>
<line x1="496.70" y1="205.15" x2="507.30" y2="205.15" stroke="#de8f05" stroke-width="1.25" stroke-opacity="0.78"/>
<line x1="496.70" y1="212.35" x2="507.30" y2="212.35" stroke="#029e73" stroke-width="1.25" stroke-opacity="0.78"/>
<line x1="496.70" y1="219.55" x2="507.30" y2="219.55" stroke="#d55e00" stroke-width="1.25" stroke-opacity="0.78"/>
<line x1="496.70" y1="226.75" x2="507.30" y2="226.75" stroke="#cc78bc" stroke-width="1.25" stroke-opacity="0.78"/>
<line x1="496.70" y1="233.95" x2="507.30" y2="233.95" stroke="#ca9161" stroke-width="1.25" stroke-opacity="0.78"/>
<line x1="496.70" y1="241.15" x2="507.30" y2="241.15" stroke="#fbafe4" stroke-width="1.25" stroke-opacity="0.78"/>
<line x1="496.70" y1="248.35" x2="507.30" y2="248.35" stroke="#949494" stroke-width="1.25" stroke-opacity="0.78"/>
<defs><filter id="tb" x="-5%" y="-5%" width="110%" height="110%"><feGaussianBlur stdDeviation="0.2"/></filter></defs>
<g filter="url(#tb)" stroke="#222222" stroke-width="0.06"><text transform="translate(54.50 172.10) rotate(0.15) scale(1 1.1)" font-size="5.17" text-anchor="middle" >0.0</text><text transform="translate(102.80 172.10) rotate(0.15) scale(1 1.1)" font-size="5.17" text-anchor="middle" >0.2</text><text transform="translate(151.10 172.10) rotate(0.15) scale(1 1.1)" font-size="5.17" text-anchor="middle" >0.4</text><text transform="translate(199.40 172.10) rotate(0.15) scale(1 1.1)" font-size="5.17" text-anchor="middle" >0.6</text><text transform="translate(247.70 172.10) rotate(0.15) scale(1 1.1)" font-size="5.17" text-anchor="middle" >0.8</text><text transform="translate(16.90 166.30) rotate(0.15) scale(1 1.1)" font-size="5.17" text-anchor="end" >0</text><text transform="translate(16.90 140.88) rotate(0.15) scale(1 1.1)" font-size="5.17" text-anchor="end" >10</text><text transform="translate(16.90 115.46) rotate(0.15) scale(1 1.1)" font-size="5.17" text-anchor="end" >20</text><text transform="translate(16.90 90.04) rotate(0.15) scale(1 1.1)" font-size="5.17" text-anchor="end" >30</text><text transform="translate(16.90 64.62) rotate(0.15) scale(1 1.1)" font-size="5.17" text-anchor="end" >40</text><text transform="translate(16.90 39.20) rotate(0.15) scale(1 1.1)" font-size="5.17" text-anchor="end" >50</text><text transform="translate(16.90 13.78) rotate(0.15) scale(1 1.1)" font-size="5.17" text-anchor="end" >60</text><text transform="translate(145.00 178.00) rotate(0.15) scale(1 1.1)" font-size="5.17" text-anchor="middle" >Precipitation</text><text transform="translate(8.50 88.35) rotate(-90) scale(1 1.1)" font-size="5.17" text-anchor="middle">Density</text><text transform="translate(145.00 7.70) rotate(0.15) scale(1 1.1)" font-size="6.15" text-anchor="middle" >PinovaMeteo-ERA5Land Precipitation</text><text transform="translate(236.90 19.25) rotate(0.15) scale(1 1.1)" font-size="5.2" text-anchor="start" >Funtane</text><text transform="translate(236.90 26.45) rotate(0.15) scale(1 1.1)" font-size="5.2" text-anchor="start" >Kamenac</text><text transform="translate(236.90 33.65) rotate(0.15) scale(1 1.1)" font-size="5.2" text-anchor="start" >Nedelisce</text><text transform="translate(236.90 40.85) rotate(0.15) scale(1 1.1)" font-size="5.2" text-anchor="start" >Oklaj</text><text transform="translate(236.90 48.05) rotate(0.15) scale(1 1.1)" font-size="5.2" text-anchor="start" >Otocac</text><text transform="translate(236.90 55.25) rotate(0.15) scale(1 1.1)" font-size="5.2" text-anchor="start" >Potomje</text><text transform="translate(236.90 62.45) rotate(0.15) scale(1 1.1)" font-size="5.2" text-anchor="start" >Skenderovci</text><text transform="translate(236.90 69.65) rotate(0.15) scale(1 1.1)" font-size="5.2" text-anchor="start" >Suhopolje</text><text transform="translate(328.30 172.10) rotate(0.15) scale(1 1.1)" font-size="5.17" text-anchor="middle" >−80</text><text transform="translate(372.60 172.10) rotate(0.15) scale(1 1.1)" font-size="5.17" text-anchor="middle" >−60</text><text transform="translate(416.90 172.10) rotate(0.15) scale(1 1.1)" font-size="5.17" text-anchor="middle" >−40</text><text transform="translate(461.20 172.10) rotate(0.15) scale(1 1.1)" font-size="5.17" text-anchor="middle" >−20</text><text transform="translate(505.50 172.10) rotate(0.15) scale(1 1.1)" font-size="5.17" text-anchor="middle" >0</text><text transform="translate(291.60 166.60) rotate(0.15) scale(1 1.1)" font-size="5.17" text-anchor="end" >0.00</text><text transform="translate(291.60 142.05) rotate(0.15) scale(1 1.1)" font-size="5.17" text-anchor="end" >0.05</text><text transform="translate(291.60 117.50) rotate(0.15) scale(1 1.1)" font-size="5.17" text-anchor="end" >0.10</text><text transform="translate(291.60 92.95) rotate(0.15) scale(1 1.1)" font-size="5.17" text-anchor="end" >0.15</text><text transform="translate(291.60 68.40) rotate(0.15) scale(1 1.1)" font-size="5.17" text-anchor="end" >0.20</text><text transform="translate(291.60 43.85) rotate(0.15) scale(1 1.1)" font-size="5.17" text-anchor="end" >0.25</text><text transform="translate(291.60 19.30) rotate(0.15) scale(1 1.1)" font-size="5.17" text-anchor="end" >0.30</text><text transform="translate(419.55 178.00) rotate(0.15) scale(1 1.1)" font-size="5.17" text-anchor="middle" >Precipitation</text><text transform="translate(278.60 88.35) rotate(-90) scale(1 1.1)" font-size="5.17" text-anchor="middle">Density</text><text transform="translate(419.55 7.70) rotate(0.15) scale(1 1.1)" font-size="6.15" text-anchor="middle" >PinovaMeteo-Agri4Cast Precipitation</text><text transform="translate(313.60 19.25) rotate(0.15) scale(1 1.1)" font-size="5.2" text-anchor="start" >Funtane</text><text transform="translate(313.60 26.45) rotate(0.15) scale(1 1.1)" font-size="5.2" text-anchor="start" >Kamenac</text><text transform="translate(313.60 33.65) rotate(0.15) scale(1 1.1)" font-size="5.2" text-anchor="start" >Nedelisce</text><text transform="translate(313.60 40.85) rotate(0.15) scale(1 1.1)" font-size="5.2" text-anchor="start" >Oklaj</text><text transform="translate(313.60 48.05) rotate(0.15) scale(1 1.1)" font-size="5.2" text-anchor="start" >Otocac</text><text transform="translate(313.60 55.25) rotate(0.15) scale(1 1.1)" font-size="5.2" text-anchor="start" >Potomje</text><text transform="translate(313.60 62.45) rotate(0.15) scale(1 1.1)" font-size="5.2" text-anchor="start" >Skenderovci</text><text transform="translate(313.60 69.65) rotate(0.15) scale(1 1.1)" font-size="5.2" text-anchor="start" >Suhopolje</text><text transform="translate(36.40 352.90) rotate(0.15) scale(1 1.1)" font-size="5.17" text-anchor="middle" >−12.5</text><text transform="translate(66.20 352.90) rotate(0.15) scale(1 1.1)" font-size="5.17" text-anchor="middle" >−10.0</text><text transform="translate(96.00 352.90) rotate(0.15) scale(1 1.1)" font-size="5.17" text-anchor="middle" >−7.5</text><text transform="translate(125.80 352.90) rotate(0.15) scale(1 1.1)" font-size="5.17" text-anchor="middle" >−5.0</text><text transform="translate(155.60 352.90) rotate(0.15) scale(1 1.1)" font-size="5.17" text-anchor="middle" >−2.5</text><text transform="translate(185.40 352.90) rotate(0.15) scale(1 1.1)" font-size="5.17" text-anchor="middle" >0.0</text><text transform="translate(215.20 352.90) rotate(0.15) scale(1 1.1)" font-size="5.17" text-anchor="middle" >2.5</text><text transform="translate(245.00 352.90) rotate(0.15) scale(1 1.1)" font-size="5.17" text-anchor="middle" >5.0</text><text transform="translate(16.90 347.10) rotate(0.15) scale(1 1.1)" font-size="5.17" text-anchor="end" >0.0</text><text transform="translate(16.90 316.73) rotate(0.15) scale(1 1.1)" font-size="5.17" text-anchor="end" >0.1</text><text transform="translate(16.90 286.36) rotate(0.15) scale(1 1.1)" font-size="5.17" text-anchor="end" >0.2</text><text transform="translate(16.90 255.99) rotate(0.15) scale(1 1.1)" font-size="5.17" text-anchor="end" >0.3</text><text transform="translate(16.90 225.62) rotate(0.15) scale(1 1.1)" font-size="5.17" text-anchor="end" >0.4</text><text transform="translate(16.90 195.25) rotate(0.15) scale(1 1.1)" font-size="5.17" text-anchor="end" >0.5</text><text transform="translate(145.00 358.80) rotate(0.15) scale(1 1.1)" font-size="5.17" text-anchor="middle" >Temperature</text><text transform="translate(7.10 269.25) rotate(-90) scale(1 1.1)" font-size="5.17" text-anchor="middle">Density</text><text transform="translate(145.00 188.70) rotate(0.15) scale(1 1.1)" font-size="6.15" text-anchor="middle" >PinovaMeteo-ERA5Land Temperature</text><text transform="translate(236.90 200.25) rotate(0.15) scale(1 1.1)" font-size="5.2" text-anchor="start" >Funtane</text><text transform="translate(236.90 207.45) rotate(0.15) scale(1 1.1)" font-size="5.2" text-anchor="start" >Kamenac</text><text transform="translate(236.90 214.65) rotate(0.15) scale(1 1.1)" font-size="5.2" text-anchor="start" >Nedelisce</text><text transform="translate(236.90 221.85) rotate(0.15) scale(1 1.1)" font-size="5.2" text-anchor="start" >Oklaj</text><text transform="translate(236.90 229.05) rotate(0.15) scale(1 1.1)" font-size="5.2" text-anchor="start" >Otocac</text><text transform="translate(236.90 236.25) rotate(0.15) scale(1 1.1)" font-size="5.2" text-anchor="start" >Potomje</text><text transform="translate(236.90 243.45) rotate(0.15) scale(1 1.1)" font-size="5.2" text-anchor="start" >Skenderovci</text><text transform="translate(236.90 250.65) rotate(0.15) scale(1 1.1)" font-size="5.2" text-anchor="start" >Suhopolje</text><text transform="translate(306.80 352.90) rotate(0.15) scale(1 1.1)" font-size="5.17" text-anchor="middle" >−12.5</text><text transform="translate(336.80 352.90) rotate(0.15) scale(1 1.1)" font-size="5.17" text-anchor="middle" >−10.0</text><text transform="translate(366.80 352.90) rotate(0.15) scale(1 1.1)" font-size="5.17" text-anchor="middle" >−7.5</text><text transform="translate(396.80 352.90) rotate(0.15) scale(1 1.1)" font-size="5.17" text-anchor="middle" >−5.0</text><text transform="translate(426.80 352.90) rotate(0.15) scale(1 1.1)" font-size="5.17" text-anchor="middle" >−2.5</text><text transform="translate(456.80 352.90) rotate(0.15) scale(1 1.1)" font-size="5.17" text-anchor="middle" >0.0</text><text transform="translate(486.80 352.90) rotate(0.15) scale(1 1.1)" font-size="5.17" text-anchor="middle" >2.5</text><text transform="translate(516.80 352.90) rotate(0.15) scale(1 1.1)" font-size="5.17" text-anchor="middle" >5.0</text><text transform="translate(291.60 347.20) rotate(0.15) scale(1 1.1)" font-size="5.17" text-anchor="end" >0.0</text><text transform="translate(291.60 315.50) rotate(0.15) scale(1 1.1)" font-size="5.17" text-anchor="end" >0.1</text><text transform="translate(291.60 283.80) rotate(0.15) scale(1 1.1)" font-size="5.17" text-anchor="end" >0.2</text><text transform="translate(291.60 252.10) rotate(0.15) scale(1 1.1)" font-size="5.17" text-anchor="end" >0.3</text><text transform="translate(291.60 220.40) rotate(0.15) scale(1 1.1)" font-size="5.17" text-anchor="end" >0.4</text><text transform="translate(419.55 358.80) rotate(0.15) scale(1 1.1)" font-size="5.17" text-anchor="middle" >Temperature</text><text transform="translate(281.70 269.25) rotate(-90) scale(1 1.1)" font-size="5.17" text-anchor="middle">Density</text><text transform="translate(419.55 188.70) rotate(0.15) scale(1 1.1)" font-size="6.15" text-anchor="middle" >PinovaMeteo-Agri4Cast Temperature</text><text transform="translate(511.30 200.25) rotate(0.15) scale(1 1.1)" font-size="5.2" text-anchor="start" >Funtane</text><text transform="translate(511.30 207.45) rotate(0.15) scale(1 1.1)" font-size="5.2" text-anchor="start" >Kamenac</text><text transform="translate(511.30 214.65) rotate(0.15) scale(1 1.1)" font-size="5.2" text-anchor="start" >Nedelisce</text><text transform="translate(511.30 221.85) rotate(0.15) scale(1 1.1)" font-size="5.2" text-anchor="start" >Oklaj</text><text transform="translate(511.30 229.05) rotate(0.15) scale(1 1.1)" font-size="5.2" text-anchor="start" >Otocac</text><text transform="translate(511.30 236.25) rotate(0.15) scale(1 1.1)" font-size="5.2" text-anchor="start" >Potomje</text><text transform="translate(511.30 243.45) rotate(0.15) scale(1 1.1)" font-size="5.2" text-anchor="start" >Skenderovo</text><text transform="translate(511.30 250.65) rotate(0.15) scale(1 1.1)" font-size="5.2" text-anchor="start" >Suhopolje</text></g>
</svg></body></html>
